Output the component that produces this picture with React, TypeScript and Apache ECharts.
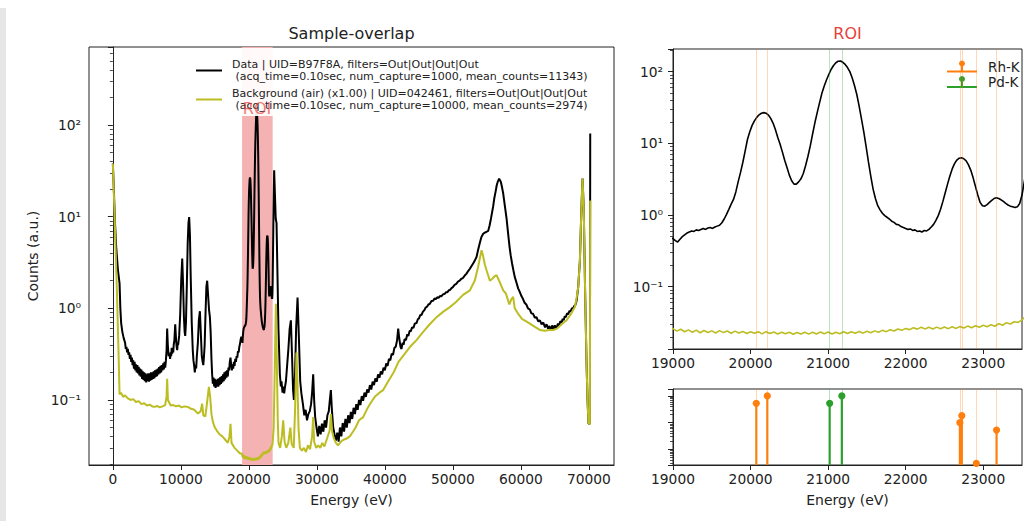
import React, { useEffect, useRef } from 'react';
import * as echarts from 'echarts';

// ---------- data (energy eV, counts a.u.) ----------
const dataSpectrum: [number, number][] = [
  [0, 38], [120, 22], [300, 9], [500, 4.5], [750, 2.6], [985, 1.87], [1100, 1.0], [1220, 0.69],
  [1400, 0.55], [1600, 0.47], [1800, 0.42], [1900, 0.36], [2000, 0.38], [2100, 0.33], [2200, 0.36], [2300, 0.31],
  [2400, 0.33], [2500, 0.28], [2600, 0.31], [2700, 0.26], [2800, 0.29], [2900, 0.24], [3000, 0.27], [3100, 0.22],
  [3200, 0.26], [3300, 0.21], [3400, 0.245], [3500, 0.2], [3600, 0.24], [3700, 0.195], [3800, 0.23], [3900, 0.185],
  [4000, 0.22], [4100, 0.18], [4200, 0.215], [4300, 0.17], [4400, 0.205], [4500, 0.165], [4600, 0.2], [4700, 0.16],
  [4800, 0.195], [4900, 0.155], [5000, 0.19], [5100, 0.16], [5200, 0.195], [5300, 0.158], [5400, 0.195], [5500, 0.162],
  [5600, 0.2], [5700, 0.165], [5800, 0.2], [5900, 0.17], [6000, 0.205], [6100, 0.172], [6200, 0.21], [6300, 0.178],
  [6400, 0.215], [6500, 0.182], [6600, 0.22], [6700, 0.19], [6800, 0.228], [6900, 0.195], [7000, 0.235], [7100, 0.2],
  [7200, 0.24], [7300, 0.21], [7400, 0.25], [7500, 0.215], [7600, 0.26], [7700, 0.225], [7800, 0.27], [7900, 0.35],
  [7985, 0.6], [8080, 0.4], [8200, 0.3], [8330, 0.32], [8420, 0.28], [8500, 0.33], [8580, 0.3], [8650, 0.37],
  [8720, 0.32], [8800, 0.36], [8880, 0.33], [8950, 0.4], [9050, 0.45], [9170, 0.67], [9300, 0.45], [9380, 0.38],
  [9460, 0.35], [9540, 0.42], [9600, 0.4], [9750, 0.5], [9900, 0.85], [10050, 2.0], [10200, 3.5], [10330, 1.8],
  [10450, 0.8], [10560, 0.55], [10640, 0.5], [10750, 0.7], [10880, 1.8], [11000, 5], [11120, 8.5], [11220, 9.9],
  [11330, 6.5], [11450, 2.2], [11600, 0.7], [11750, 0.35], [11850, 0.27], [11950, 0.24], [12050, 0.2], [12150, 0.24],
  [12250, 0.22], [12350, 0.3], [12500, 0.42], [12650, 0.75], [12800, 0.93], [12930, 0.55], [13080, 0.3], [13200, 0.26],
  [13300, 0.24], [13400, 0.3], [13500, 0.4], [13600, 0.75], [13750, 1.7], [13870, 2.0], [14000, 1.4], [14150, 0.95],
  [14270, 0.8], [14380, 0.55], [14500, 0.28], [14600, 0.19], [14700, 0.15], [14800, 0.175], [14900, 0.14], [15000, 0.17],
  [15100, 0.135], [15200, 0.165], [15300, 0.14], [15400, 0.17], [15500, 0.14], [15600, 0.172], [15700, 0.145], [15800, 0.178],
  [15900, 0.15], [16000, 0.182], [16100, 0.155], [16200, 0.19], [16300, 0.16], [16400, 0.2], [16500, 0.168], [16600, 0.205],
  [16700, 0.175], [16800, 0.21], [16900, 0.18], [17000, 0.225], [17100, 0.21], [17200, 0.26], [17300, 0.29], [17400, 0.24],
  [17500, 0.21], [17600, 0.245], [17700, 0.22], [17800, 0.26], [17900, 0.235], [18000, 0.28], [18100, 0.26], [18200, 0.3],
  [18300, 0.29], [18400, 0.34], [18500, 0.33], [18600, 0.38], [18700, 0.41], [18800, 0.46], [18900, 0.49],
  [19000, 0.47], [19030, 0.44], [19060, 0.42], [19090, 0.46], [19120, 0.5], [19150, 0.53], [19180, 0.56], [19210, 0.58],
  [19240, 0.6], [19270, 0.59], [19300, 0.62], [19330, 0.61], [19360, 0.63], [19390, 0.65], [19420, 0.63], [19450, 0.66],
  [19480, 0.67], [19510, 0.65], [19540, 0.68], [19570, 0.7], [19600, 0.72], [19630, 0.78], [19660, 0.88], [19690, 1.02],
  [19720, 1.2], [19750, 1.42], [19780, 1.65], [19810, 2.1], [19840, 2.9], [19870, 3.9], [19900, 5.4], [19930, 7.8],
  [19960, 11.3], [19990, 14.5], [20020, 17.8], [20050, 20.6], [20080, 23], [20110, 25], [20140, 26.3], [20170, 26.8],
  [20200, 26.3], [20230, 24.8], [20260, 22.3], [20290, 19.2], [20320, 15.6], [20350, 12.2], [20380, 9.8], [20410, 7.6],
  [20440, 5.8], [20470, 4.6], [20500, 3.6], [20530, 3.0], [20560, 2.7], [20590, 2.7], [20620, 2.9], [20650, 3.2],
  [20680, 3.8], [20710, 4.9], [20740, 6.6], [20770, 9.2], [20800, 13.5], [20830, 19.5], [20860, 27], [20890, 37],
  [20920, 50], [20950, 63], [20980, 77], [21010, 92], [21040, 108], [21070, 122], [21100, 133], [21130, 140],
  [21160, 141], [21190, 135], [21220, 126], [21250, 114], [21280, 100], [21310, 82], [21340, 64], [21370, 48],
  [21400, 33], [21430, 22], [21460, 14.5], [21490, 9], [21520, 5.5], [21550, 3.5], [21580, 2.3], [21610, 1.7],
  [21640, 1.35], [21670, 1.18], [21700, 1.06], [21730, 0.98], [21760, 0.93], [21790, 0.88], [21820, 0.82], [21850, 0.79],
  [21880, 0.74], [21910, 0.73], [21940, 0.69], [21970, 0.67], [22000, 0.65], [22030, 0.63], [22060, 0.64], [22090, 0.61],
  [22120, 0.62], [22150, 0.59], [22180, 0.6], [22210, 0.58], [22240, 0.61], [22270, 0.6], [22300, 0.63], [22330, 0.68],
  [22360, 0.74], [22390, 0.84], [22420, 0.98], [22450, 1.2], [22480, 1.55], [22510, 2.05], [22540, 2.7], [22570, 3.5],
  [22600, 4.4], [22630, 5.2], [22660, 5.85], [22690, 6.2], [22720, 6.3], [22750, 6.1], [22780, 5.7], [22810, 5.0],
  [22840, 4.2], [22870, 3.3], [22900, 2.5], [22930, 1.9], [22960, 1.5], [22990, 1.35], [23020, 1.33], [23050, 1.4],
  [23080, 1.5], [23110, 1.6], [23140, 1.7], [23170, 1.74], [23200, 1.7], [23230, 1.63], [23260, 1.55], [23290, 1.45],
  [23320, 1.38], [23350, 1.33], [23380, 1.3], [23410, 1.27], [23440, 1.3], [23470, 1.45], [23500, 1.9],
  [23600, 8], [23720, 32], [23850, 16], [23950, 9.5], [24070, 8.5], [24200, 2.5], [24350, 0.6],
  [24560, 0.19], [24700, 0.14], [24800, 0.16], [24950, 0.12], [25050, 0.14], [25200, 0.118], [25290, 0.135], [25450, 0.16],
  [25550, 0.2], [25800, 0.35], [26000, 0.6], [26180, 0.74], [26350, 0.3], [26500, 0.13], [26620, 0.1], [26800, 0.2],
  [26950, 0.6], [27160, 1.31], [27350, 0.5], [27550, 0.16], [27730, 0.117], [27950, 0.09], [28150, 0.068], [28350, 0.078],
  [28550, 0.06], [28750, 0.07], [28950, 0.075], [29150, 0.09], [29300, 0.12], [29460, 0.19], [29600, 0.1], [29750, 0.065],
  [29950, 0.05], [30150, 0.04], [30350, 0.052], [30550, 0.042], [30750, 0.055], [30950, 0.045], [31150, 0.06], [31350, 0.05],
  [31550, 0.068], [31750, 0.075], [31910, 0.1], [32060, 0.128], [32200, 0.08], [32400, 0.05], [32600, 0.042], [32800, 0.036],
  [33000, 0.044], [33200, 0.035], [33400, 0.05], [33600, 0.04], [33800, 0.056], [34000, 0.045], [34200, 0.062], [34400, 0.05],
  [34600, 0.068], [34800, 0.056], [35000, 0.074], [35200, 0.062], [35400, 0.082], [35600, 0.07], [35800, 0.09], [36000, 0.078],
  [36200, 0.1], [36400, 0.088], [36600, 0.11], [36800, 0.098], [37000, 0.12], [37200, 0.108], [37400, 0.13], [37600, 0.12],
  [37800, 0.145], [38000, 0.13], [38200, 0.158], [38400, 0.145], [38600, 0.172], [38800, 0.158], [39000, 0.19], [39200, 0.175],
  [39400, 0.205], [39600, 0.19], [39800, 0.225], [40000, 0.21], [40200, 0.25], [40400, 0.235], [40600, 0.28], [40800, 0.27],
  [41000, 0.32], [41200, 0.31], [41400, 0.37], [41600, 0.38], [41800, 0.45], [41960, 0.6], [42100, 0.48], [42300, 0.38],
  [42450, 0.36], [42600, 0.42], [42750, 0.4], [42900, 0.46], [43100, 0.45], [43300, 0.52], [43450, 0.5], [43650, 0.57],
  [43800, 0.56], [44000, 0.62], [44200, 0.61], [44400, 0.68], [44650, 0.69], [44850, 0.76], [45000, 0.77], [45200, 0.84],
  [45400, 0.85], [45600, 0.92], [45800, 0.95], [46000, 1.02], [46200, 1.04], [46400, 1.1], [46620, 1.12], [46850, 1.2],
  [47100, 1.21], [47300, 1.28], [47500, 1.26], [47700, 1.32], [47900, 1.3], [48100, 1.36], [48300, 1.35], [48550, 1.42],
  [48800, 1.44], [49000, 1.5], [49200, 1.5], [49400, 1.57], [49560, 1.58], [49800, 1.66], [50000, 1.7], [50250, 1.8],
  [50500, 1.85], [50750, 1.95], [51000, 2.0], [51250, 2.1], [51500, 2.15], [51750, 2.28], [52010, 2.39], [52250, 2.55],
  [52500, 2.7], [52750, 2.9], [53000, 3.1], [53250, 3.35], [53480, 3.63], [53700, 4.3], [53970, 5.2], [54200, 6.0],
  [54460, 6.5], [54700, 6.7], [54900, 6.8], [55200, 7.0], [55400, 8.0], [55600, 9.5], [55800, 11.5], [55930, 13],
  [56100, 16], [56300, 19], [56450, 22], [56600, 24], [56800, 26], [57050, 24], [57250, 20.5], [57400, 18],
  [57650, 13], [57900, 9.5], [58050, 7.4], [58200, 5.8], [58350, 4.6], [58500, 3.8], [58700, 3.1], [58900, 2.6],
  [59100, 2.2], [59360, 1.9], [59600, 1.65], [59850, 1.5], [60100, 1.35], [60300, 1.27], [60550, 1.15], [60800, 1.1],
  [61050, 1.0], [61320, 0.97], [61550, 0.88], [61800, 0.87], [62050, 0.79], [62300, 0.8], [62550, 0.72], [62800, 0.74],
  [63050, 0.67], [63300, 0.7], [63550, 0.62], [63780, 0.67], [64000, 0.6], [64200, 0.64], [64400, 0.58], [64600, 0.65],
  [64800, 0.59], [65000, 0.65], [65240, 0.6], [65450, 0.68], [65600, 0.64], [65800, 0.72], [66000, 0.7], [66150, 0.77],
  [66300, 0.74], [66450, 0.82], [66600, 0.8], [66800, 0.88], [66960, 0.86], [67150, 0.94], [67300, 0.92], [67500, 1.0],
  [67700, 1.0], [67850, 1.06], [68000, 1.08], [68190, 1.2], [68430, 1.7], [68680, 3.3], [68900, 12], [69070, 26],
  [69250, 12], [69450, 1.5], [69650, 0.27], [69800, 0.1], [69950, 0.055], [70150, 0.055], [70200, 81],
];

const backgroundSpectrum: [number, number][] = [
  [0, 38], [300, 8], [600, 1.5], [850, 0.3], [985, 0.115], [1200, 0.12], [1500, 0.108], [1800, 0.112],
  [2200, 0.104], [2600, 0.1], [3000, 0.102], [3400, 0.095], [3800, 0.097], [4200, 0.09], [4600, 0.092],
  [5000, 0.087], [5400, 0.089], [5800, 0.085], [6130, 0.084], [6500, 0.086], [6900, 0.083], [7300, 0.085],
  [7700, 0.088], [7900, 0.11], [7985, 0.17], [8100, 0.1], [8500, 0.087], [8900, 0.088], [9300, 0.085],
  [9700, 0.087], [10100, 0.083], [10500, 0.085], [11030, 0.084], [11500, 0.08], [12000, 0.078], [12500, 0.071],
  [12900, 0.075], [13130, 0.091], [13300, 0.068], [13600, 0.066], [13900, 0.1], [14120, 0.139], [14300, 0.11],
  [14500, 0.07], [14700, 0.058], [14950, 0.051], [15300, 0.046], [15700, 0.042], [16100, 0.04], [16500, 0.037],
  [16910, 0.034], [17150, 0.04], [17300, 0.055], [17450, 0.034], [17890, 0.03], [18300, 0.028], [18700, 0.026],
  [19000, 0.026], [19050, 0.024], [19100, 0.0255], [19150, 0.0235], [19200, 0.025], [19250, 0.0232], [19300, 0.0248],
  [19350, 0.0228], [19400, 0.0245], [19450, 0.023], [19500, 0.0242], [19550, 0.0226], [19600, 0.0244], [19650, 0.0229],
  [19700, 0.0241], [19750, 0.0224], [19800, 0.024], [19850, 0.0226], [19900, 0.0238], [19950, 0.0222], [20000, 0.0236],
  [20050, 0.0224], [20100, 0.0235], [20150, 0.022], [20200, 0.0236], [20250, 0.0222], [20300, 0.0233], [20350, 0.0219],
  [20400, 0.0232], [20450, 0.022], [20500, 0.0231], [20550, 0.0217], [20600, 0.023], [20650, 0.0219], [20700, 0.0232],
  [20750, 0.0218], [20800, 0.0231], [20850, 0.0219], [20900, 0.0233], [20950, 0.022], [21000, 0.0234], [21050, 0.0219],
  [21100, 0.0232], [21150, 0.0221], [21200, 0.0235], [21250, 0.0222], [21300, 0.0236], [21350, 0.0224], [21400, 0.0237],
  [21450, 0.0225], [21500, 0.0239], [21550, 0.0228], [21600, 0.0242], [21650, 0.0231], [21700, 0.0246], [21750, 0.0236],
  [21800, 0.0251], [21850, 0.0241], [21900, 0.0257], [21950, 0.0246], [22000, 0.0262], [22050, 0.0252], [22100, 0.0268],
  [22150, 0.0256], [22200, 0.0272], [22250, 0.0258], [22300, 0.0271], [22350, 0.0257], [22400, 0.0273], [22450, 0.0259],
  [22500, 0.0274], [22550, 0.026], [22600, 0.0276], [22650, 0.0262], [22700, 0.0279], [22750, 0.0265], [22800, 0.0282],
  [22850, 0.0268], [22900, 0.0286], [22950, 0.0272], [23000, 0.029], [23050, 0.0276], [23100, 0.0295], [23150, 0.0281],
  [23200, 0.0305], [23250, 0.029], [23300, 0.0315], [23350, 0.0302], [23400, 0.0325], [23450, 0.0318], [23500, 0.0345],
  [23650, 0.05], [23800, 0.2], [23970, 1.12], [24100, 0.3], [24250, 0.06], [24360, 0.034], [24600, 0.03],
  [24850, 0.04], [25050, 0.06], [25250, 0.035], [25500, 0.03], [25800, 0.034], [26100, 0.05], [26300, 0.033],
  [26600, 0.03], [26800, 0.08], [27000, 0.33], [27150, 0.15], [27300, 0.05], [27500, 0.03], [27800, 0.028],
  [28100, 0.03], [28400, 0.027], [28700, 0.032], [29000, 0.029], [29300, 0.04], [29460, 0.065], [29600, 0.035],
  [29900, 0.03], [30200, 0.032], [30500, 0.03], [30800, 0.034], [31100, 0.031], [31500, 0.038], [31900, 0.047],
  [32060, 0.07], [32250, 0.045], [32500, 0.038], [32800, 0.034], [33100, 0.032], [33400, 0.034], [33700, 0.036],
  [34000, 0.037], [34400, 0.038], [34850, 0.04], [35300, 0.045], [35700, 0.05], [36200, 0.06], [36810, 0.065],
  [37400, 0.08], [38000, 0.095], [38600, 0.11], [39200, 0.12], [39750, 0.128], [40500, 0.16], [41300, 0.2],
  [42000, 0.26], [42800, 0.31], [43700, 0.38], [44650, 0.45], [45600, 0.55], [46600, 0.67], [47600, 0.8],
  [48600, 0.92], [49560, 1.03], [50500, 1.18], [51500, 1.4], [52500, 1.57], [53240, 2.02], [53700, 2.8],
  [54000, 3.6], [54220, 4.3], [54450, 3.7], [54700, 3.0], [54950, 2.6], [55440, 2.0], [55800, 2.1],
  [56170, 2.25], [56420, 2.3], [56800, 2.0], [57400, 1.57], [57800, 1.45], [58300, 1.1], [58600, 1.25],
  [58870, 1.33], [59100, 1.0], [59600, 0.87], [60200, 0.76], [60800, 0.72], [61320, 0.68], [62000, 0.63],
  [62790, 0.58], [63500, 0.57], [64200, 0.58], [64750, 0.58], [65300, 0.6], [65800, 0.65], [66300, 0.7],
  [66720, 0.74], [67300, 0.85], [67940, 1.03], [68200, 1.3], [68430, 1.7], [68680, 3.3], [68900, 12],
  [69070, 26], [69250, 12], [69450, 1.5], [69650, 0.27], [69800, 0.1], [69950, 0.055], [70150, 0.055],
  [70200, 15],
];

// emission lines (energy eV, relative intensity)
const rhLines: [number, number][] = [
  [20074, 0.53], [20216, 1.0], [22699, 0.1], [22724, 0.184], [22911, 0.003], [23172, 0.053],
];
const pdLines: [number, number][] = [[21020, 0.53], [21177, 1.0]];

const roiRange: [number, number] = [19000, 23500];
const mainXTicks = [0, 10000, 20000, 30000, 40000, 50000, 60000, 70000];
const roiXTicks = [19000, 20000, 21000, 22000, 23000];

const dataName =
  'Data | UID=B97F8A, filters=Out|Out|Out|Out\n (acq_time=0.10sec, num_capture=1000, mean_counts=11343)';
const bgName =
  'Background (air) (x1.00) | UID=042461, filters=Out|Out|Out|Out\n (acq_time=0.10sec, num_capture=10000, mean_counts=2974)';

const BLACK = '#000000';
const OLIVE = '#bcbd22';
const ORANGE = '#ff7f0e';
const GREEN = '#2ca02c';
const RED = '#e8413c';
const TXT = '#222222';
const FONT = 'DejaVu Sans';

const LOWER_MIN = 0.00263;
const LOWER_MAX = 1.82;

const SUP: Record<string, string> = {
  '-': '⁻', '0': '⁰', '1': '¹', '2': '²', '3': '³', '4': '⁴', '5': '⁵', '6': '⁶', '7': '⁷', '8': '⁸', '9': '⁹',
};
const logLabel = (v: number) => {
  const l = Math.log10(v);
  const n = Math.round(l);
  if (Math.abs(l - n) > 1e-6) return '';
  return '10' + String(n).split('').map((c) => SUP[c]).join('');
};

const axisLineStyle = { show: true, lineStyle: { color: TXT, width: 1 } };
const tickStyle = { show: true, length: 5, lineStyle: { color: TXT, width: 1 } };
const minorTickStyle = { show: true, splitNumber: 9, length: 3, lineStyle: { color: TXT, width: 0.8 } };

function stemSeries(lines: [number, number][], color: string) {
  return {
    type: 'custom',
    coordinateSystem: 'cartesian2d',
    xAxisIndex: 2,
    yAxisIndex: 2,
    silent: true,
    z: 5,
    encode: { x: 0, y: 1 },
    data: lines,
    renderItem: (params: any, api: any) => {
      const x = api.value(0);
      const v = api.value(1);
      const top = api.coord([x, v]);
      const bottom = api.coord([x, LOWER_MIN]);
      return {
        type: 'group',
        children: [
          { type: 'line', shape: { x1: top[0], y1: top[1], x2: bottom[0], y2: bottom[1] }, style: { stroke: color, lineWidth: 2.2 } },
          { type: 'circle', shape: { cx: top[0], cy: top[1], r: 3.6 }, style: { fill: color } },
        ],
      };
    },
  };
}

function vLineSeries(lines: [number, number][], color: string, axisIndex: number) {
  return {
    type: 'line',
    xAxisIndex: axisIndex,
    yAxisIndex: axisIndex,
    data: [],
    silent: true,
    z: 1,
    markLine: {
      silent: true,
      symbol: ['none', 'none'],
      label: { show: false },
      animation: false,
      lineStyle: { color, opacity: 0.3, width: 1, type: 'solid' },
      data: lines.map(([e]) => ({ xAxis: e })),
    },
  };
}

function legendStem(color: string, yBase: number, label: string) {
  return [
    { type: 'line', shape: { x1: 947, y1: yBase, x2: 977, y2: yBase }, style: { stroke: color, lineWidth: 2 } },
    { type: 'line', shape: { x1: 962, y1: yBase, x2: 962, y2: yBase - 8 }, style: { stroke: color, lineWidth: 2 } },
    { type: 'circle', shape: { cx: 962, cy: yBase - 8, r: 3 }, style: { fill: color } },
    {
      type: 'text', x: 988, y: yBase - 5,
      style: { text: label, fill: TXT, font: `13.5px "${FONT}"`, align: 'left', verticalAlign: 'middle' },
    },
  ];
}

export default function App() {
  const ref = useRef<HTMLDivElement>(null);

  useEffect(() => {
    if (!ref.current) return;
    const chart = echarts.init(ref.current, undefined, { renderer: 'svg' });

    const option: any = {
      animation: false,
      backgroundColor: '#ffffff',
      textStyle: { fontFamily: FONT },
      grid: [
        { left: 89, top: 47, width: 525, height: 418, show: true, borderColor: TXT, borderWidth: 1, containLabel: false, outerBoundsMode: 'none' },
        { left: 673, top: 49, width: 349, height: 300, show: true, borderColor: TXT, borderWidth: 1, containLabel: false, outerBoundsMode: 'none' },
        { left: 673, top: 389, width: 349, height: 76, show: true, borderColor: TXT, borderWidth: 1, containLabel: false, outerBoundsMode: 'none' },
      ],
      xAxis: [
        {
          type: 'value', gridIndex: 0, min: -3509, max: 73696, minInterval: 10000, maxInterval: 10000,
          splitLine: { show: false }, axisLine: axisLineStyle, axisTick: tickStyle,
          axisLabel: {
            color: TXT, fontSize: 13.8, margin: 7, showMinLabel: false, showMaxLabel: false,
            formatter: (v: number) => (mainXTicks.includes(v) ? String(v) : ''),
          },
          name: 'Energy (eV)', nameLocation: 'middle', nameGap: 28,
          nameTextStyle: { color: TXT, fontSize: 14 },
        },
        {
          type: 'value', gridIndex: 1, min: roiRange[0], max: roiRange[1], interval: 1000,
          splitLine: { show: false }, axisLine: axisLineStyle, axisTick: tickStyle,
          axisLabel: {
            color: TXT, fontSize: 13.8, margin: 7, showMaxLabel: false,
            formatter: (v: number) => (roiXTicks.includes(v) ? String(v) : ''),
          },
        },
        {
          type: 'value', gridIndex: 2, min: roiRange[0], max: roiRange[1], interval: 1000,
          splitLine: { show: false }, axisLine: axisLineStyle, axisTick: tickStyle,
          axisLabel: {
            color: TXT, fontSize: 13.8, margin: 7, showMaxLabel: false,
            formatter: (v: number) => (roiXTicks.includes(v) ? String(v) : ''),
          },
          name: 'Energy (eV)', nameLocation: 'middle', nameGap: 28,
          nameTextStyle: { color: TXT, fontSize: 14 },
        },
      ],
      yAxis: [
        {
          type: 'log', gridIndex: 0, min: 0.0195, max: 710,
          splitLine: { show: false }, axisLine: axisLineStyle, axisTick: tickStyle, minorTick: minorTickStyle,
          axisLabel: { color: TXT, fontSize: 13.8, margin: 8, showMinLabel: false, showMaxLabel: false, formatter: logLabel },
          name: 'Counts (a.u.)', nameLocation: 'middle', nameGap: 48,
          nameTextStyle: { color: TXT, fontSize: 14 },
        },
        {
          type: 'log', gridIndex: 1, min: 0.01352, max: 207,
          splitLine: { show: false }, axisLine: axisLineStyle, axisTick: tickStyle, minorTick: minorTickStyle,
          axisLabel: { color: TXT, fontSize: 13.8, margin: 10, showMinLabel: false, showMaxLabel: false, formatter: logLabel },
        },
        {
          type: 'log', gridIndex: 2, min: LOWER_MIN, max: LOWER_MAX,
          splitLine: { show: false }, axisLine: axisLineStyle, axisTick: tickStyle, minorTick: minorTickStyle,
          axisLabel: { show: false },
        },
      ],
      legend: {
        data: [dataName, bgName],
        orient: 'vertical',
        left: 191,
        top: 48,
        padding: [10, 5, 4, 5],
        itemGap: 4,
        itemWidth: 26,
        itemHeight: 2,
        icon: 'rect',
        selectedMode: false,
        backgroundColor: 'rgba(255,255,255,0.92)',
        textStyle: { fontSize: 11, lineHeight: 12.5, color: TXT, padding: [0, 0, 0, 5] },
      },
      graphic: [
        { type: 'rect', shape: { x: 0, y: 8, width: 6, height: 513 }, style: { fill: '#e6e6e6' }, silent: true },
        {
          type: 'text', x: 351.5, y: 33,
          style: { text: 'Sample-overlap', fill: TXT, font: `16px "${FONT}"`, align: 'center', verticalAlign: 'middle' },
        },
        {
          type: 'text', x: 847.5, y: 33,
          style: { text: 'ROI', fill: RED, font: `16px "${FONT}"`, align: 'center', verticalAlign: 'middle' },
        },
        {
          type: 'text', x: 257, y: 108, z: 100,
          style: { text: 'ROI', fill: 'rgba(232,65,60,0.7)', font: `16px "${FONT}"`, align: 'center', verticalAlign: 'middle' },
        },
        ...legendStem(ORANGE, 71.5, 'Rh-K'),
        ...legendStem(GREEN, 87, 'Pd-K'),
      ],
      series: [
        {
          type: 'line', xAxisIndex: 0, yAxisIndex: 0, data: [], silent: true, z: 1,
          markArea: {
            silent: true,
            itemStyle: { color: '#f5b2b2' },
            label: { show: false },
            data: [[{ xAxis: roiRange[0] }, { xAxis: roiRange[1] }]],
          },
        },
        {
          name: dataName, type: 'line', xAxisIndex: 0, yAxisIndex: 0, data: dataSpectrum,
          showSymbol: false, symbol: 'none', z: 3, silent: true,
          itemStyle: { color: BLACK }, lineStyle: { color: BLACK, width: 2 },
        },
        {
          name: bgName, type: 'line', xAxisIndex: 0, yAxisIndex: 0, data: backgroundSpectrum,
          showSymbol: false, symbol: 'none', z: 4, silent: true,
          itemStyle: { color: OLIVE }, lineStyle: { color: OLIVE, width: 2 },
        },
        vLineSeries(rhLines, ORANGE, 1),
        vLineSeries(pdLines, GREEN, 1),
        {
          type: 'line', xAxisIndex: 1, yAxisIndex: 1, data: dataSpectrum,
          showSymbol: false, symbol: 'none', z: 3, silent: true, clip: true,
          lineStyle: { color: BLACK, width: 1.6 },
        },
        {
          type: 'line', xAxisIndex: 1, yAxisIndex: 1, data: backgroundSpectrum,
          showSymbol: false, symbol: 'none', z: 4, silent: true, clip: true,
          lineStyle: { color: OLIVE, width: 1.6 },
        },
        vLineSeries(rhLines, ORANGE, 2),
        vLineSeries(pdLines, GREEN, 2),
        stemSeries(rhLines, ORANGE),
        stemSeries(pdLines, GREEN),
      ],
    };

    chart.setOption(option);
    return () => chart.dispose();
  }, []);

  return (
    <div
      ref={ref}
      style={{ position: 'fixed', left: 0, top: 0, width: 1033, height: 521, background: '#fff' }}
    />
  );
}
